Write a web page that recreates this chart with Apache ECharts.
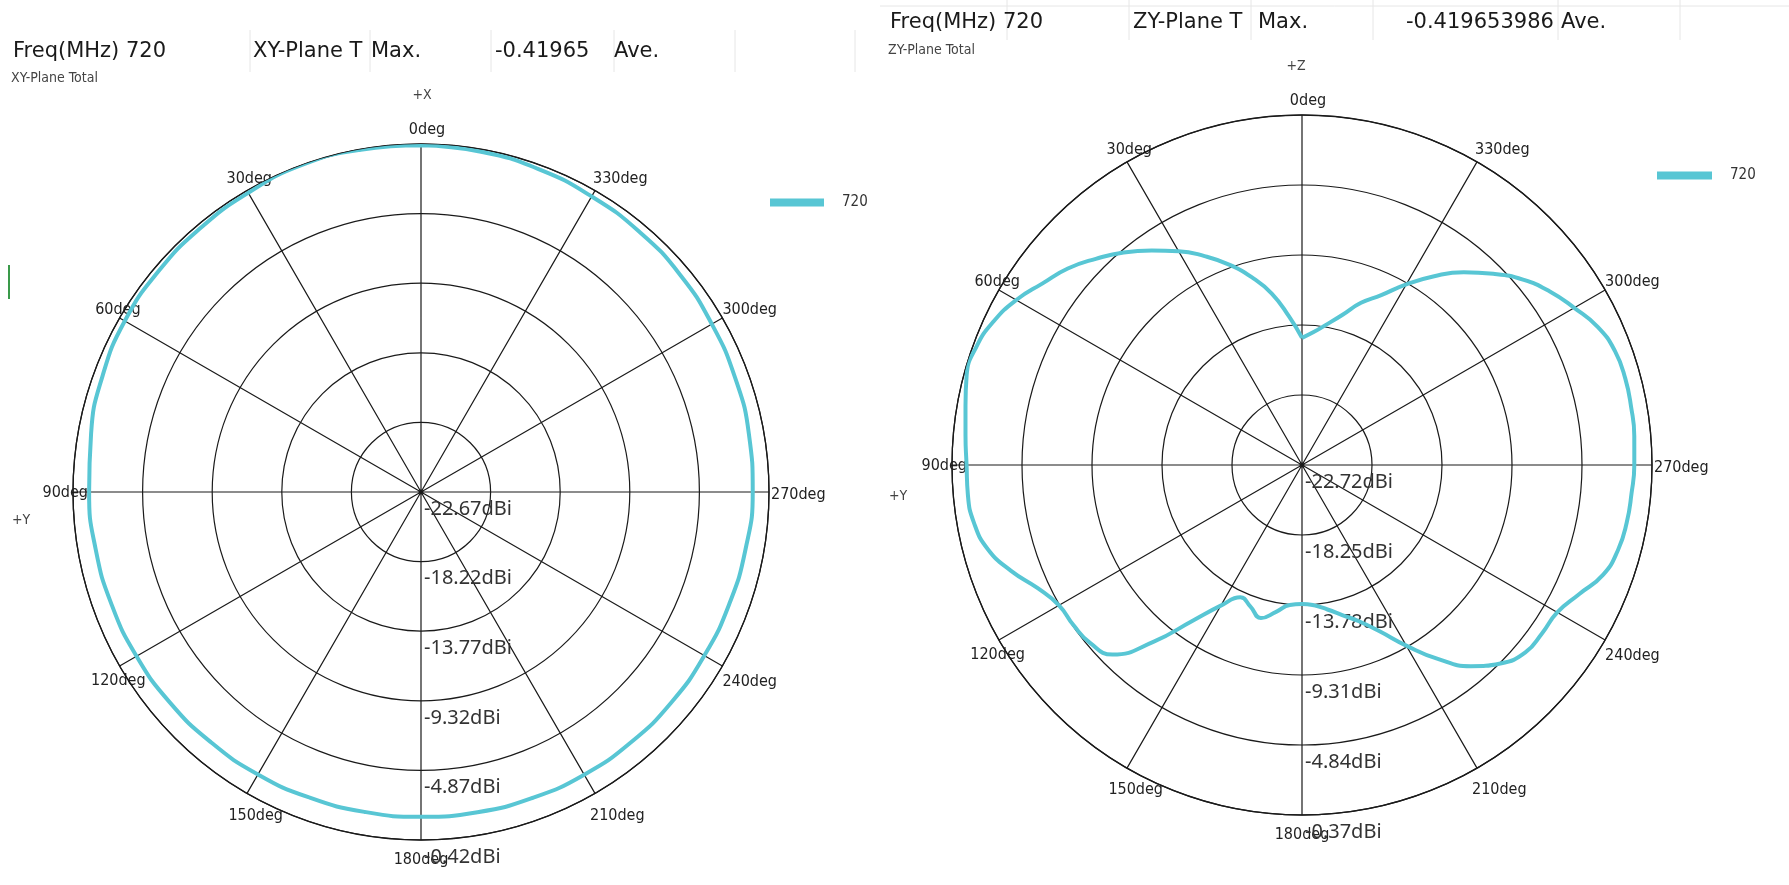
<!DOCTYPE html>
<html>
<head>
<meta charset="utf-8">
<script src="https://cdn.jsdelivr.net/npm/echarts@6/dist/echarts.min.js"></script>
<style>
html,body{margin:0;padding:0;background:#ffffff;}
#chart{width:1789px;height:885px;}
</style>
</head>
<body>
<div id="chart"></div>
<script>
// ---------------- data ----------------
const seriesName = '720';
const angleTicks = [0, 30, 60, 90, 120, 150, 180, 210, 240, 270, 300, 330];

// XY-plane total gain (dBi) every 10 deg, angle measured counter-clockwise from +X (top)
const xyAngles = [0,10,20,30,40,50,60,70,80,90,100,110,120,130,140,150,160,170,180,
                  190,200,210,220,230,240,250,260,270,280,290,300,310,320,330,340,350,360];
const xyGain = [-0.50,-0.45,-0.42,-0.58,-0.68,-0.74,-0.80,-1.00,-1.25,-1.45,-1.55,-1.62,-1.67,-1.72,-1.78,-1.82,-1.87,-1.90,-1.90,
                -1.88,-1.85,-1.80,-1.78,-1.76,-1.75,-1.70,-1.60,-1.46,-1.38,-1.30,-1.20,-1.05,-0.95,-0.85,-0.70,-0.58,-0.50];
const xyRingLabels = ['-22.67', '-18.22', '-13.77', '-9.32', '-4.87', '-0.42'];

// ZY-plane total gain (dBi) every 5 deg, angle measured counter-clockwise from +Z (top)
const zyAngles = [0,5,10,15,20,25,30,35,40,45,50,55,60,65,70,75,80,85,90,95,100,105,110,115,120,125,130,135,140,145,150,155,160,165,170,175,
                  180,185,190,195,200,205,210,215,220,225,230,235,240,245,250,255,260,265,270,275,280,285,290,295,300,305,310,315,320,325,330,335,340,345,350,355,360];
const zyGain = [-14.6,-13.2,-11.6,-10.3,-9.1,-8.0,-6.95,-6.0,-5.0,-4.1,-3.2,-2.5,-1.65,-1.0,-0.6,-0.55,-0.9,-1.15,-1.3,-1.3,-1.45,-1.95,-2.95,-4.1,-4.8,-4.9,-5.05,-5.6,-8.0,-10.6,-12.35,-13.4,-13.1,-12.6,-13.2,-13.75,
                -13.85,-13.72,-13.35,-12.8,-12.1,-11.0,-9.4,-7.6,-5.95,-4.8,-4.1,-4.0,-3.9,-3.2,-2.25,-1.82,-1.66,-1.6,-1.5,-1.42,-1.38,-1.35,-1.45,-1.87,-2.65,-3.4,-4.3,-5.45,-6.65,-8.0,-9.4,-10.75,-11.7,-12.8,-13.6,-14.2,-14.6];
const zyRingLabels = ['-22.72', '-18.25', '-13.78', '-9.31', '-4.84', '-0.37'];

// header texts
const leftHeader = ['Freq(MHz) 720', 'XY-Plane T', 'Max.', '-0.41965', 'Ave.'];
const rightHeader = ['Freq(MHz) 720', 'ZY-Plane T', 'Max.', '-0.419653986', 'Ave.'];

// ---------------- helpers ----------------
const CYAN = '#58c6d4';
const GRID = '#1a1a1a';

function ringSpec(labels) {
  const min = parseFloat(labels[0]);
  const step = Math.round((parseFloat(labels[1]) - min) * 100) / 100;
  const count = labels.length - 1;
  return { min: min, step: step, max: Math.round(step * count * 100) / 100 };
}
const xyRing = ringSpec(xyRingLabels);
const zyRing = ringSpec(zyRingLabels);

// angle axis runs counter-clockwise starting at the bottom so that radius labels sit on the lower spoke
function toAxisAngle(a) { return (a + 180) % 360; }
function fromAxisAngle(v) { return (Math.round(v) + 180) % 360; }

function buildData(angles, gains, ring) {
  return angles.map((a, i) => [gains[i] - ring.min, toAxisAngle(a)]);
}

// per-label fine placement (style only)
const angleRich = {
  a0:   { padding: [0, 0, 6, 12] },
  a30:  { padding: [0, -25, 4, 0] },
  a60:  { padding: [0, -21, 0, 0] },
  a90:  { padding: [2, -15, 0, 0] },
  a120: { padding: [7, -26, 0, 0] },
  a150: { padding: [14, -36, 0, 0] },
  a180: { padding: [12, 0, 0, 0] },
  a210: { padding: [14, 0, 0, -5] },
  a240: { padding: [8, 0, 0, 0] },
  a270: { padding: [6, 0, 0, 2] },
  a300: { padding: [0, 0, 0, 0] },
  a330: { padding: [0, 0, 4, -2] }
};

function angleAxisOpt(polarIndex) {
  return {
    polarIndex: polarIndex,
    type: 'value',
    min: 0, max: 360, interval: 30,
    startAngle: -90,
    clockwise: false,
    axisLine: { show: true, lineStyle: { color: GRID, width: 1.3 } },
    axisTick: { show: false },
    splitLine: { show: true, lineStyle: { color: GRID, width: 1.2, type: 'solid' } },
    axisLabel: {
      show: true,
      margin: 0,
      color: '#222222',
      fontFamily: '"DejaVu Sans Condensed", "DejaVu Sans", sans-serif',
      fontSize: 16,
      formatter: function (v) {
        const a = fromAxisAngle(v);
        return '{a' + a + '|' + a + 'deg}';
      },
      rich: angleRich
    }
  };
}

function radiusAxisOpt(polarIndex, ring) {
  return {
    polarIndex: polarIndex,
    type: 'value',
    min: 0, max: ring.max, interval: ring.step,
    axisLine: { show: false },
    axisTick: { show: false },
    splitLine: { show: true, lineStyle: { color: GRID, width: 1.2 } },
    axisLabel: {
      show: true,
      margin: 3,
      align: 'left',
      verticalAlign: 'top',
      padding: [7, 0, 0, 0],
      color: '#333333',
      fontFamily: '"Noto Sans", sans-serif',
      fontSize: 20,
      formatter: function (v) { return (v + ring.min).toFixed(2) + 'dBi'; }
    }
  };
}

function headerTitles(texts, xs, y) {
  return texts.map((t, i) => ({
    text: t, left: xs[i], top: y, padding: 0,
    textAlign: 'left', textVerticalAlign: 'middle',
    textStyle: { fontFamily: '"DejaVu Sans", sans-serif', fontSize: 21, fontWeight: 'normal', color: '#1a1a1a' }
  }));
}
function smallTitle(t, x, y, align) {
  return {
    text: t, left: x, top: y, padding: 0,
    textAlign: align || 'left', textVerticalAlign: 'middle',
    textStyle: { fontFamily: '"DejaVu Sans Condensed", "DejaVu Sans", sans-serif', fontSize: 14, fontWeight: 'normal', color: '#444444' }
  };
}

const titles = []
  .concat(headerTitles(leftHeader, [13, 253, 371, 495, 614], 52))
  .concat(headerTitles(rightHeader, [890, 1133, 1258, 1406, 1561], 23))
  .concat([
    smallTitle('XY-Plane Total', 11, 78),
    smallTitle('ZY-Plane Total', 888, 50),
    smallTitle('+X', 422, 95, 'center'),
    smallTitle('+Y', 21, 520, 'center'),
    smallTitle('+Z', 1296, 66, 'center'),
    smallTitle('+Y', 898, 496, 'center')
  ]);

function cellLines(xs, y1, y2) {
  return xs.map(x => ({
    type: 'line', silent: true,
    shape: { x1: x, y1: y1, x2: x, y2: y2 },
    style: { stroke: '#e6e6e6', lineWidth: 1 }
  }));
}

const chart = echarts.init(document.getElementById('chart'), null, { renderer: 'canvas' });
chart.setOption({
  animation: false,
  backgroundColor: '#ffffff',
  title: titles,
  legend: [
    {
      left: 770, top: 195, orient: 'vertical', padding: 0,
      icon: 'rect', itemWidth: 54, itemHeight: 8,
      data: [seriesName],
      selectedMode: false,
      textStyle: { fontFamily: '"DejaVu Sans Condensed", "DejaVu Sans", sans-serif', fontSize: 15, color: '#333', padding: [0, 0, 0, 13] }
    },
    {
      left: 1657, top: 168, orient: 'vertical', padding: 0,
      icon: 'rect', itemWidth: 55, itemHeight: 8,
      data: [seriesName],
      selectedMode: false,
      textStyle: { fontFamily: '"DejaVu Sans Condensed", "DejaVu Sans", sans-serif', fontSize: 15, color: '#333', padding: [0, 0, 0, 13] }
    }
  ],
  polar: [
    { center: [421, 492], radius: 348 },
    { center: [1302, 465], radius: 350 }
  ],
  angleAxis: [angleAxisOpt(0), angleAxisOpt(1)],
  radiusAxis: [radiusAxisOpt(0, xyRing), radiusAxisOpt(1, zyRing)],
  graphic: [].concat(
    cellLines([250, 370, 491, 614, 735, 855], 30, 72),
    cellLines([1007, 1129, 1251, 1373, 1558, 1680], 0, 40),
    [{ type: 'line', silent: true, shape: { x1: 880, y1: 6, x2: 1789, y2: 6 }, style: { stroke: '#e6e6e6', lineWidth: 1 } },
     { type: 'rect', silent: true, shape: { x: 8, y: 265, width: 2, height: 34 }, style: { fill: '#3a9a4a' } }]
  ),
  series: [
    {
      name: seriesName, type: 'line', coordinateSystem: 'polar', polarIndex: 0,
      data: buildData(xyAngles, xyGain, xyRing),
      smooth: true, showSymbol: false, symbol: 'none',
      lineStyle: { color: CYAN, width: 4 }, itemStyle: { color: CYAN }, z: 5
    },
    {
      name: seriesName, type: 'line', coordinateSystem: 'polar', polarIndex: 1,
      data: buildData(zyAngles, zyGain, zyRing),
      smooth: true, showSymbol: false, symbol: 'none',
      lineStyle: { color: CYAN, width: 4 }, itemStyle: { color: CYAN }, z: 5
    }
  ]
});
</script>
</body>
</html>
